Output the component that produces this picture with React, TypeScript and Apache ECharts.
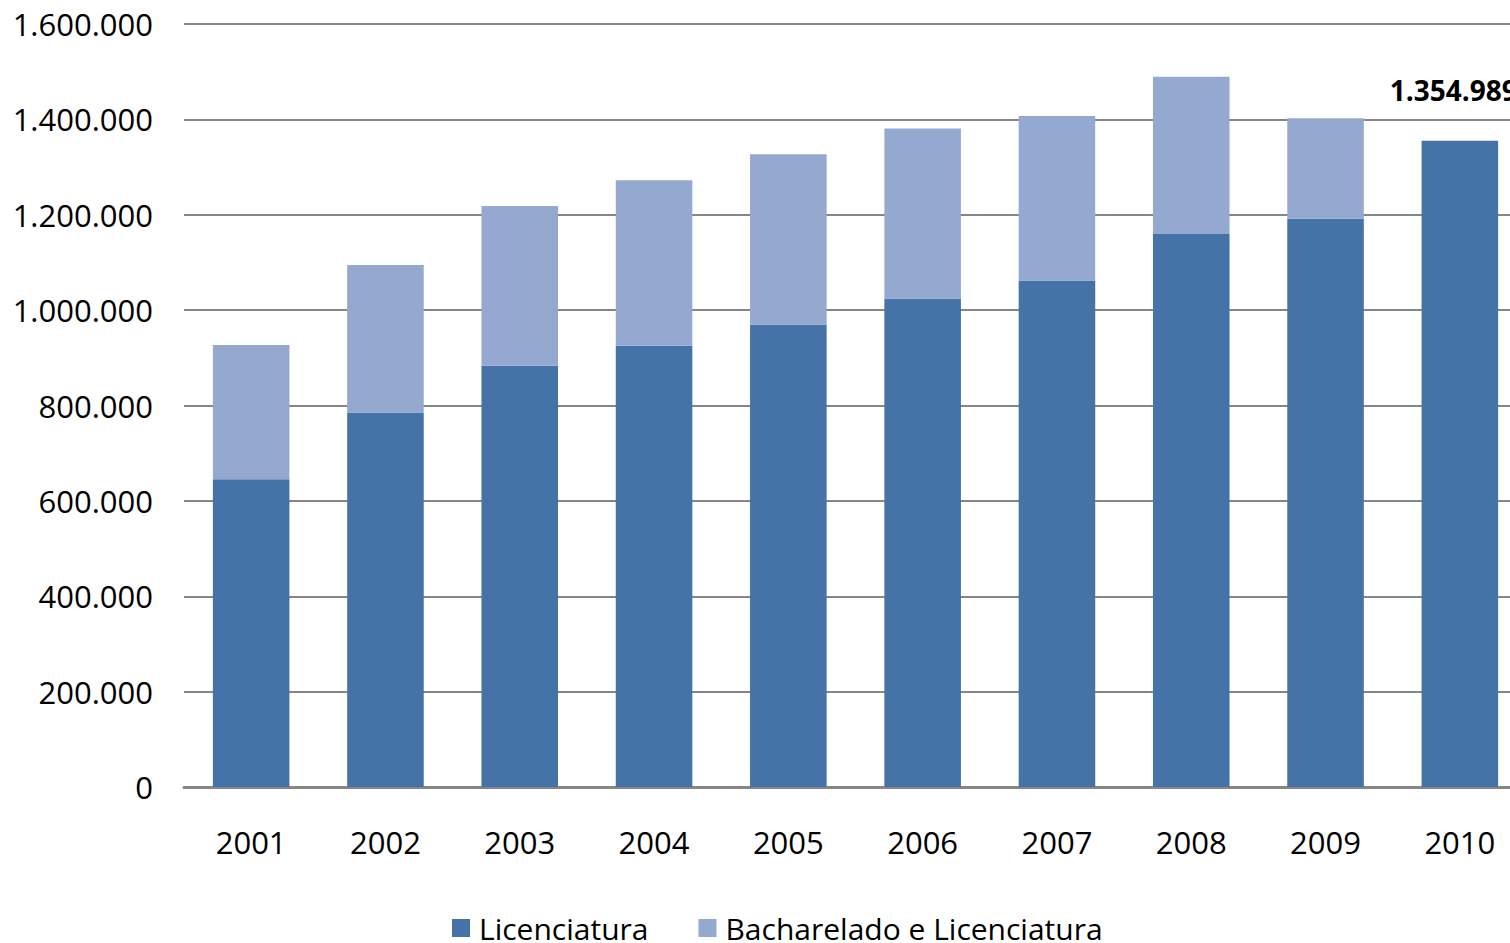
import React, { useEffect, useRef } from "react";
import * as echarts from "echarts";

const years = ["2001", "2002", "2003", "2004", "2005", "2006", "2007", "2008", "2009", "2010"];
const licenciatura = [645500, 785300, 883300, 925300, 970000, 1024600, 1062300, 1159700, 1191800, 1354989];
const bacharelado = [281300, 309300, 335100, 346900, 356800, 356100, 345000, 329500, 210500, 0];
const seriesNames = ["Licenciatura", "Bacharelado e Licenciatura"];
const highlightLabel = "1.354.989";

const fmt = (v: number) => String(v).replace(/\B(?=(\d{3})+(?!\d))/g, ".");

const FONT = "'Open Sans', 'Noto Sans', sans-serif";

export default function App() {
  const ref = useRef<HTMLDivElement>(null);
  useEffect(() => {
    document.body.style.overflow = "hidden";
    const chart = echarts.init(ref.current!, undefined, { renderer: "svg" });
    chart.setOption({
      animation: false,
      textStyle: { fontFamily: FONT },
      grid: { left: 184, right: 0, top: 24, bottom: 156, containLabel: false },
      legend: {
        left: 452,
        top: 913,
        padding: 0,
        itemWidth: 18,
        itemHeight: 18,
        itemGap: 50,
        icon: "rect",
        textStyle: { fontSize: 30, color: "#000", fontFamily: FONT, padding: [0, 0, 0, 4] },
        data: seriesNames,
      },
      xAxis: {
        type: "category",
        data: years,
        axisLine: { lineStyle: { color: "#868686", width: 3 } },
        axisTick: { show: false },
        axisLabel: { fontSize: 31, color: "#000", margin: 39, fontFamily: FONT },
      },
      yAxis: {
        type: "value",
        min: 0,
        max: 1600000,
        interval: 200000,
        axisLine: { show: false },
        axisTick: { show: false },
        splitLine: { lineStyle: { color: "#868686", width: 2 } },
        axisLabel: { fontSize: 31, color: "#000", margin: 31, fontFamily: FONT, formatter: (v: number) => fmt(v) },
      },
      series: [
        {
          name: seriesNames[0],
          type: "bar",
          stack: "total",
          barCategoryGap: "43%",
          itemStyle: { color: "#4572A7" },
          data: licenciatura.map((v, i) =>
            i === licenciatura.length - 1
              ? {
                  value: v,
                  label: {
                    show: true,
                    position: "top",
                    formatter: highlightLabel,
                    fontSize: 28,
                    fontWeight: "bold",
                    color: "#000",
                    fontFamily: FONT,
                    offset: [-6, -32],
                  },
                }
              : v
          ),
        },
        {
          name: seriesNames[1],
          type: "bar",
          stack: "total",
          itemStyle: { color: "#95A9D0" },
          data: bacharelado,
        },
      ],
    });
    return () => chart.dispose();
  }, []);
  return (
    <div
      ref={ref}
      style={{ position: "fixed", left: 0, top: 0, width: 1527, height: 943, background: "#fff" }}
    />
  );
}
